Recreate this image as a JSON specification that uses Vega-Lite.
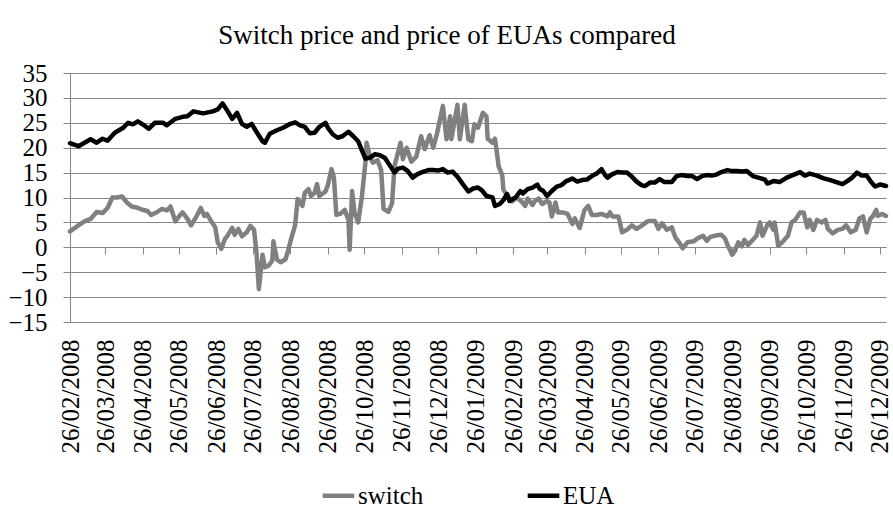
{
"$schema": "https://vega.github.io/schema/vega-lite/v6.json",
"width": 816, "height": 249,
"autosize": {"type": "none"},
"padding": {"left": 70, "top": 73, "right": 7, "bottom": 192},
"background": "white",
"title": {"text": "Switch price and price of EUAs compared", "font": "Times New Roman", "fontSize": 27, "fontWeight": "normal", "color": "black", "anchor": "middle", "offset": 11, "dx": -31},
"config": {"view": {"stroke": null}, "font": "Times New Roman"},
"data": {"values": [
{"date":"2008-02-26","series":"switch","price":3.2},{"date":"2008-03-04","series":"switch","price":4.4},{"date":"2008-03-09","series":"switch","price":5.2},{"date":"2008-03-14","series":"switch","price":5.7},{"date":"2008-03-19","series":"switch","price":7.1},{"date":"2008-03-24","series":"switch","price":6.9},{"date":"2008-03-28","series":"switch","price":7.9},{"date":"2008-04-01","series":"switch","price":10.0},{"date":"2008-04-05","series":"switch","price":10.0},{"date":"2008-04-09","series":"switch","price":10.2},{"date":"2008-04-13","series":"switch","price":9.0},{"date":"2008-04-17","series":"switch","price":8.2},{"date":"2008-04-21","series":"switch","price":8.0},{"date":"2008-04-25","series":"switch","price":7.6},{"date":"2008-04-30","series":"switch","price":7.3},{"date":"2008-05-03","series":"switch","price":6.5},{"date":"2008-05-08","series":"switch","price":7.1},{"date":"2008-05-12","series":"switch","price":7.7},{"date":"2008-05-16","series":"switch","price":7.4},{"date":"2008-05-19","series":"switch","price":8.2},{"date":"2008-05-23","series":"switch","price":5.2},{"date":"2008-05-27","series":"switch","price":6.5},{"date":"2008-05-29","series":"switch","price":7.0},{"date":"2008-06-02","series":"switch","price":5.7},{"date":"2008-06-05","series":"switch","price":4.4},{"date":"2008-06-09","series":"switch","price":6.0},{"date":"2008-06-13","series":"switch","price":7.9},{"date":"2008-06-16","series":"switch","price":6.3},{"date":"2008-06-18","series":"switch","price":6.7},{"date":"2008-06-21","series":"switch","price":5.5},{"date":"2008-06-25","series":"switch","price":4.0},{"date":"2008-06-27","series":"switch","price":1.0},{"date":"2008-06-30","series":"switch","price":-0.3},{"date":"2008-07-03","series":"switch","price":1.7},{"date":"2008-07-05","series":"switch","price":2.3},{"date":"2008-07-09","series":"switch","price":3.9},{"date":"2008-07-11","series":"switch","price":2.5},{"date":"2008-07-14","series":"switch","price":3.7},{"date":"2008-07-17","series":"switch","price":2.2},{"date":"2008-07-21","series":"switch","price":3.0},{"date":"2008-07-24","series":"switch","price":4.3},{"date":"2008-07-27","series":"switch","price":3.5},{"date":"2008-07-29","series":"switch","price":-1.0},{"date":"2008-07-31","series":"switch","price":-8.4},{"date":"2008-08-03","series":"switch","price":-1.5},{"date":"2008-08-05","series":"switch","price":-4.0},{"date":"2008-08-08","series":"switch","price":-3.7},{"date":"2008-08-11","series":"switch","price":-2.7},{"date":"2008-08-12","series":"switch","price":1.2},{"date":"2008-08-15","series":"switch","price":-2.5},{"date":"2008-08-18","series":"switch","price":-3.0},{"date":"2008-08-22","series":"switch","price":-2.4},{"date":"2008-08-24","series":"switch","price":-0.8},{"date":"2008-08-27","series":"switch","price":2.0},{"date":"2008-08-30","series":"switch","price":4.5},{"date":"2008-09-01","series":"switch","price":9.7},{"date":"2008-09-05","series":"switch","price":8.3},{"date":"2008-09-07","series":"switch","price":11.0},{"date":"2008-09-10","series":"switch","price":11.7},{"date":"2008-09-12","series":"switch","price":10.3},{"date":"2008-09-15","series":"switch","price":10.9},{"date":"2008-09-17","series":"switch","price":12.7},{"date":"2008-09-19","series":"switch","price":10.3},{"date":"2008-09-24","series":"switch","price":11.2},{"date":"2008-09-26","series":"switch","price":12.5},{"date":"2008-09-29","series":"switch","price":15.7},{"date":"2008-10-01","series":"switch","price":14.0},{"date":"2008-10-03","series":"switch","price":6.5},{"date":"2008-10-06","series":"switch","price":6.7},{"date":"2008-10-10","series":"switch","price":7.5},{"date":"2008-10-13","series":"switch","price":5.5},{"date":"2008-10-14","series":"switch","price":-0.5},{"date":"2008-10-16","series":"switch","price":11.3},{"date":"2008-10-18","series":"switch","price":7.0},{"date":"2008-10-21","series":"switch","price":5.0},{"date":"2008-10-24","series":"switch","price":10.0},{"date":"2008-10-27","series":"switch","price":17.0},{"date":"2008-10-28","series":"switch","price":21.0},{"date":"2008-10-31","series":"switch","price":18.0},{"date":"2008-11-02","series":"switch","price":17.0},{"date":"2008-11-06","series":"switch","price":17.5},{"date":"2008-11-09","series":"switch","price":15.5},{"date":"2008-11-11","series":"switch","price":7.7},{"date":"2008-11-15","series":"switch","price":7.1},{"date":"2008-11-18","series":"switch","price":8.8},{"date":"2008-11-20","series":"switch","price":16.3},{"date":"2008-11-25","series":"switch","price":21.0},{"date":"2008-11-27","series":"switch","price":17.7},{"date":"2008-11-30","series":"switch","price":20.0},{"date":"2008-12-04","series":"switch","price":17.2},{"date":"2008-12-08","series":"switch","price":18.2},{"date":"2008-12-12","series":"switch","price":22.3},{"date":"2008-12-15","series":"switch","price":19.7},{"date":"2008-12-19","series":"switch","price":22.5},{"date":"2008-12-22","series":"switch","price":20.0},{"date":"2008-12-25","series":"switch","price":22.7},{"date":"2008-12-30","series":"switch","price":28.4},{"date":"2009-01-02","series":"switch","price":21.7},{"date":"2009-01-05","series":"switch","price":26.3},{"date":"2009-01-06","series":"switch","price":21.7},{"date":"2009-01-11","series":"switch","price":28.6},{"date":"2009-01-13","series":"switch","price":21.7},{"date":"2009-01-17","series":"switch","price":28.6},{"date":"2009-01-20","series":"switch","price":21.7},{"date":"2009-01-23","series":"switch","price":21.3},{"date":"2009-01-25","series":"switch","price":24.7},{"date":"2009-01-28","series":"switch","price":24.0},{"date":"2009-02-01","series":"switch","price":27.0},{"date":"2009-02-04","series":"switch","price":26.3},{"date":"2009-02-05","series":"switch","price":21.8},{"date":"2009-02-09","series":"switch","price":21.0},{"date":"2009-02-11","series":"switch","price":21.8},{"date":"2009-02-13","series":"switch","price":18.3},{"date":"2009-02-14","series":"switch","price":16.3},{"date":"2009-02-17","series":"switch","price":14.5},{"date":"2009-02-18","series":"switch","price":11.5},{"date":"2009-02-21","series":"switch","price":10.5},{"date":"2009-02-25","series":"switch","price":9.2},{"date":"2009-03-01","series":"switch","price":10.0},{"date":"2009-03-05","series":"switch","price":9.2},{"date":"2009-03-08","series":"switch","price":8.3},{"date":"2009-03-10","series":"switch","price":9.8},{"date":"2009-03-14","series":"switch","price":8.5},{"date":"2009-03-16","series":"switch","price":9.3},{"date":"2009-03-19","series":"switch","price":9.8},{"date":"2009-03-22","series":"switch","price":8.7},{"date":"2009-03-26","series":"switch","price":9.3},{"date":"2009-03-28","series":"switch","price":9.0},{"date":"2009-03-30","series":"switch","price":6.2},{"date":"2009-04-02","series":"switch","price":9.0},{"date":"2009-04-04","series":"switch","price":7.0},{"date":"2009-04-08","series":"switch","price":7.0},{"date":"2009-04-12","series":"switch","price":6.7},{"date":"2009-04-16","series":"switch","price":4.7},{"date":"2009-04-18","series":"switch","price":5.8},{"date":"2009-04-22","series":"switch","price":3.9},{"date":"2009-04-26","series":"switch","price":7.5},{"date":"2009-04-29","series":"switch","price":8.3},{"date":"2009-05-02","series":"switch","price":6.5},{"date":"2009-05-06","series":"switch","price":6.5},{"date":"2009-05-10","series":"switch","price":6.7},{"date":"2009-05-15","series":"switch","price":6.2},{"date":"2009-05-17","series":"switch","price":7.0},{"date":"2009-05-19","series":"switch","price":6.2},{"date":"2009-05-24","series":"switch","price":6.2},{"date":"2009-05-27","series":"switch","price":3.0},{"date":"2009-05-31","series":"switch","price":3.5},{"date":"2009-06-04","series":"switch","price":4.4},{"date":"2009-06-08","series":"switch","price":3.7},{"date":"2009-06-12","series":"switch","price":4.3},{"date":"2009-06-17","series":"switch","price":5.2},{"date":"2009-06-19","series":"switch","price":5.3},{"date":"2009-06-23","series":"switch","price":5.3},{"date":"2009-06-26","series":"switch","price":3.7},{"date":"2009-06-29","series":"switch","price":4.8},{"date":"2009-07-03","series":"switch","price":3.5},{"date":"2009-07-07","series":"switch","price":4.0},{"date":"2009-07-10","series":"switch","price":2.0},{"date":"2009-07-14","series":"switch","price":0.7},{"date":"2009-07-16","series":"switch","price":-0.2},{"date":"2009-07-20","series":"switch","price":1.0},{"date":"2009-07-25","series":"switch","price":1.2},{"date":"2009-07-29","series":"switch","price":1.9},{"date":"2009-08-02","series":"switch","price":2.3},{"date":"2009-08-05","series":"switch","price":1.3},{"date":"2009-08-08","series":"switch","price":2.1},{"date":"2009-08-13","series":"switch","price":2.4},{"date":"2009-08-17","series":"switch","price":2.5},{"date":"2009-08-20","series":"switch","price":1.8},{"date":"2009-08-22","series":"switch","price":0.5},{"date":"2009-08-26","series":"switch","price":-1.5},{"date":"2009-08-28","series":"switch","price":-0.8},{"date":"2009-08-31","series":"switch","price":1.0},{"date":"2009-09-03","series":"switch","price":0.2},{"date":"2009-09-05","series":"switch","price":1.5},{"date":"2009-09-08","series":"switch","price":0.5},{"date":"2009-09-12","series":"switch","price":1.5},{"date":"2009-09-15","series":"switch","price":2.3},{"date":"2009-09-18","series":"switch","price":5.0},{"date":"2009-09-20","series":"switch","price":2.3},{"date":"2009-09-24","series":"switch","price":4.5},{"date":"2009-09-26","series":"switch","price":5.0},{"date":"2009-09-29","series":"switch","price":3.5},{"date":"2009-09-30","series":"switch","price":5.0},{"date":"2009-10-03","series":"switch","price":0.3},{"date":"2009-10-07","series":"switch","price":1.2},{"date":"2009-10-11","series":"switch","price":2.3},{"date":"2009-10-14","series":"switch","price":5.0},{"date":"2009-10-17","series":"switch","price":5.5},{"date":"2009-10-21","series":"switch","price":7.0},{"date":"2009-10-24","series":"switch","price":7.0},{"date":"2009-10-27","series":"switch","price":4.0},{"date":"2009-10-29","series":"switch","price":5.5},{"date":"2009-11-01","series":"switch","price":3.5},{"date":"2009-11-04","series":"switch","price":5.5},{"date":"2009-11-08","series":"switch","price":5.0},{"date":"2009-11-11","series":"switch","price":5.5},{"date":"2009-11-13","series":"switch","price":3.7},{"date":"2009-11-17","series":"switch","price":2.8},{"date":"2009-11-21","series":"switch","price":3.5},{"date":"2009-11-25","series":"switch","price":3.7},{"date":"2009-11-28","series":"switch","price":4.4},{"date":"2009-12-02","series":"switch","price":3.0},{"date":"2009-12-06","series":"switch","price":3.5},{"date":"2009-12-09","series":"switch","price":5.8},{"date":"2009-12-12","series":"switch","price":6.2},{"date":"2009-12-15","series":"switch","price":3.0},{"date":"2009-12-18","series":"switch","price":5.7},{"date":"2009-12-20","series":"switch","price":6.2},{"date":"2009-12-23","series":"switch","price":7.5},{"date":"2009-12-24","series":"switch","price":6.3},{"date":"2009-12-28","series":"switch","price":6.7},{"date":"2009-12-31","series":"switch","price":6.3},
{"date":"2008-02-26","series":"EUA","price":20.9},{"date":"2008-03-04","series":"EUA","price":20.3},{"date":"2008-03-09","series":"EUA","price":21.0},{"date":"2008-03-14","series":"EUA","price":21.7},{"date":"2008-03-19","series":"EUA","price":21.0},{"date":"2008-03-24","series":"EUA","price":21.8},{"date":"2008-03-28","series":"EUA","price":21.4},{"date":"2008-04-03","series":"EUA","price":23.0},{"date":"2008-04-10","series":"EUA","price":24.0},{"date":"2008-04-14","series":"EUA","price":25.0},{"date":"2008-04-18","series":"EUA","price":24.7},{"date":"2008-04-22","series":"EUA","price":25.3},{"date":"2008-04-26","series":"EUA","price":24.7},{"date":"2008-05-01","series":"EUA","price":23.8},{"date":"2008-05-06","series":"EUA","price":25.0},{"date":"2008-05-13","series":"EUA","price":25.0},{"date":"2008-05-16","series":"EUA","price":24.5},{"date":"2008-05-23","series":"EUA","price":25.8},{"date":"2008-05-29","series":"EUA","price":26.2},{"date":"2008-06-02","series":"EUA","price":26.3},{"date":"2008-06-07","series":"EUA","price":27.3},{"date":"2008-06-15","series":"EUA","price":26.9},{"date":"2008-06-19","series":"EUA","price":27.1},{"date":"2008-06-23","series":"EUA","price":27.3},{"date":"2008-06-27","series":"EUA","price":27.7},{"date":"2008-07-01","series":"EUA","price":28.9},{"date":"2008-07-05","series":"EUA","price":27.4},{"date":"2008-07-09","series":"EUA","price":25.8},{"date":"2008-07-13","series":"EUA","price":27.0},{"date":"2008-07-17","series":"EUA","price":24.8},{"date":"2008-07-21","series":"EUA","price":24.2},{"date":"2008-07-25","series":"EUA","price":24.8},{"date":"2008-07-29","series":"EUA","price":23.2},{"date":"2008-08-03","series":"EUA","price":21.3},{"date":"2008-08-05","series":"EUA","price":21.0},{"date":"2008-08-09","series":"EUA","price":22.8},{"date":"2008-08-15","series":"EUA","price":23.5},{"date":"2008-08-20","series":"EUA","price":24.0},{"date":"2008-08-26","series":"EUA","price":24.8},{"date":"2008-08-30","series":"EUA","price":25.1},{"date":"2008-09-03","series":"EUA","price":24.5},{"date":"2008-09-07","series":"EUA","price":24.2},{"date":"2008-09-11","series":"EUA","price":22.9},{"date":"2008-09-15","series":"EUA","price":23.0},{"date":"2008-09-19","series":"EUA","price":24.2},{"date":"2008-09-24","series":"EUA","price":25.0},{"date":"2008-09-26","series":"EUA","price":24.0},{"date":"2008-09-30","series":"EUA","price":22.7},{"date":"2008-10-04","series":"EUA","price":22.0},{"date":"2008-10-08","series":"EUA","price":22.3},{"date":"2008-10-13","series":"EUA","price":23.2},{"date":"2008-10-17","series":"EUA","price":22.3},{"date":"2008-10-21","series":"EUA","price":21.3},{"date":"2008-10-24","series":"EUA","price":19.5},{"date":"2008-10-27","series":"EUA","price":17.8},{"date":"2008-10-31","series":"EUA","price":18.0},{"date":"2008-11-04","series":"EUA","price":18.7},{"date":"2008-11-08","series":"EUA","price":18.5},{"date":"2008-11-12","series":"EUA","price":18.0},{"date":"2008-11-16","series":"EUA","price":16.5},{"date":"2008-11-20","series":"EUA","price":15.0},{"date":"2008-11-23","series":"EUA","price":15.8},{"date":"2008-11-27","series":"EUA","price":16.0},{"date":"2008-12-01","series":"EUA","price":15.3},{"date":"2008-12-05","series":"EUA","price":14.0},{"date":"2008-12-09","series":"EUA","price":14.7},{"date":"2008-12-14","series":"EUA","price":15.2},{"date":"2008-12-18","series":"EUA","price":15.5},{"date":"2008-12-22","series":"EUA","price":15.5},{"date":"2008-12-26","series":"EUA","price":15.4},{"date":"2008-12-30","series":"EUA","price":15.7},{"date":"2009-01-03","series":"EUA","price":15.0},{"date":"2009-01-07","series":"EUA","price":15.2},{"date":"2009-01-11","series":"EUA","price":14.2},{"date":"2009-01-16","series":"EUA","price":12.5},{"date":"2009-01-20","series":"EUA","price":11.2},{"date":"2009-01-24","series":"EUA","price":11.8},{"date":"2009-01-28","series":"EUA","price":12.0},{"date":"2009-01-31","series":"EUA","price":11.5},{"date":"2009-02-04","series":"EUA","price":10.3},{"date":"2009-02-09","series":"EUA","price":10.0},{"date":"2009-02-11","series":"EUA","price":8.3},{"date":"2009-02-15","series":"EUA","price":8.7},{"date":"2009-02-18","series":"EUA","price":9.5},{"date":"2009-02-21","series":"EUA","price":10.7},{"date":"2009-02-23","series":"EUA","price":9.3},{"date":"2009-02-28","series":"EUA","price":10.0},{"date":"2009-03-04","series":"EUA","price":11.3},{"date":"2009-03-06","series":"EUA","price":10.8},{"date":"2009-03-10","series":"EUA","price":11.7},{"date":"2009-03-14","series":"EUA","price":12.0},{"date":"2009-03-18","series":"EUA","price":12.6},{"date":"2009-03-20","series":"EUA","price":11.7},{"date":"2009-03-23","series":"EUA","price":11.3},{"date":"2009-03-26","series":"EUA","price":10.3},{"date":"2009-03-30","series":"EUA","price":11.3},{"date":"2009-04-03","series":"EUA","price":12.2},{"date":"2009-04-07","series":"EUA","price":12.5},{"date":"2009-04-11","series":"EUA","price":13.3},{"date":"2009-04-16","series":"EUA","price":13.8},{"date":"2009-04-20","series":"EUA","price":13.2},{"date":"2009-04-24","series":"EUA","price":13.5},{"date":"2009-04-28","series":"EUA","price":13.6},{"date":"2009-05-02","series":"EUA","price":14.3},{"date":"2009-05-06","series":"EUA","price":14.8},{"date":"2009-05-10","series":"EUA","price":15.7},{"date":"2009-05-13","series":"EUA","price":14.5},{"date":"2009-05-15","series":"EUA","price":14.0},{"date":"2009-05-19","series":"EUA","price":14.7},{"date":"2009-05-23","series":"EUA","price":15.1},{"date":"2009-05-27","series":"EUA","price":15.0},{"date":"2009-05-31","series":"EUA","price":15.0},{"date":"2009-06-04","series":"EUA","price":14.2},{"date":"2009-06-08","series":"EUA","price":13.2},{"date":"2009-06-12","series":"EUA","price":12.5},{"date":"2009-06-15","series":"EUA","price":12.3},{"date":"2009-06-19","series":"EUA","price":13.0},{"date":"2009-06-23","series":"EUA","price":13.0},{"date":"2009-06-27","series":"EUA","price":13.7},{"date":"2009-07-01","series":"EUA","price":13.1},{"date":"2009-07-07","series":"EUA","price":13.1},{"date":"2009-07-11","series":"EUA","price":14.3},{"date":"2009-07-15","series":"EUA","price":14.5},{"date":"2009-07-20","series":"EUA","price":14.3},{"date":"2009-07-24","series":"EUA","price":14.3},{"date":"2009-07-28","series":"EUA","price":13.7},{"date":"2009-08-01","series":"EUA","price":14.3},{"date":"2009-08-05","series":"EUA","price":14.5},{"date":"2009-08-09","series":"EUA","price":14.4},{"date":"2009-08-13","series":"EUA","price":14.6},{"date":"2009-08-17","series":"EUA","price":15.1},{"date":"2009-08-22","series":"EUA","price":15.5},{"date":"2009-08-26","series":"EUA","price":15.3},{"date":"2009-08-30","series":"EUA","price":15.3},{"date":"2009-09-03","series":"EUA","price":15.2},{"date":"2009-09-07","series":"EUA","price":15.3},{"date":"2009-09-12","series":"EUA","price":14.3},{"date":"2009-09-18","series":"EUA","price":13.9},{"date":"2009-09-22","series":"EUA","price":13.6},{"date":"2009-09-24","series":"EUA","price":12.8},{"date":"2009-09-29","series":"EUA","price":13.3},{"date":"2009-10-04","series":"EUA","price":13.1},{"date":"2009-10-10","series":"EUA","price":14.0},{"date":"2009-10-15","series":"EUA","price":14.5},{"date":"2009-10-21","series":"EUA","price":15.1},{"date":"2009-10-25","series":"EUA","price":14.4},{"date":"2009-10-29","series":"EUA","price":14.8},{"date":"2009-11-04","series":"EUA","price":14.4},{"date":"2009-11-09","series":"EUA","price":13.9},{"date":"2009-11-15","series":"EUA","price":13.5},{"date":"2009-11-20","series":"EUA","price":13.1},{"date":"2009-11-25","series":"EUA","price":12.7},{"date":"2009-11-29","series":"EUA","price":13.3},{"date":"2009-12-03","series":"EUA","price":14.0},{"date":"2009-12-07","series":"EUA","price":15.0},{"date":"2009-12-11","series":"EUA","price":14.4},{"date":"2009-12-15","series":"EUA","price":14.4},{"date":"2009-12-19","series":"EUA","price":13.0},{"date":"2009-12-22","series":"EUA","price":12.2},{"date":"2009-12-26","series":"EUA","price":12.6},{"date":"2009-12-31","series":"EUA","price":12.3}
]},
"encoding": {
  "y": {"field": "price", "type": "quantitative",
    "scale": {"domain": [-15, 35], "nice": false, "zero": false},
    "axis": {"values": [-15,-10,-5,0,5,10,15,20,25,30,35], "title": null, "grid": true, "gridColor": "#868686", "gridWidth": 1, "domainColor": "#868686", "tickColor": "#868686", "tickSize": 7, "labelFontSize": 25, "labelFont": "Times New Roman", "labelColor": "black", "labelPadding": 16, "labelOverlap": false, "labelBound": false, "labelFlush": false}},
  "color": {"field": "series", "type": "nominal",
    "scale": {"domain": ["switch", "EUA"], "range": ["#808080", "#000000"]},
    "legend": {"title": null, "orient": "none", "legendX": 250, "legendY": 404, "direction": "horizontal", "symbolType": "stroke", "symbolStrokeWidth": 4.5, "symbolSize": 1000, "labelFontSize": 25, "labelFont": "Times New Roman", "labelColor": "black", "labelOffset": 1, "columnPadding": 94}}
},
"layer": [
  {
    "transform": [{"filter": "datum.series == 'switch'"}],
    "mark": {"type": "line", "strokeWidth": 4.5, "strokeJoin": "round", "strokeCap": "round"},
    "encoding": {
      "x": {"field": "date", "type": "temporal",
        "scale": {"type": "utc", "domain": [{"year": 2008, "month": 2, "date": 26, "utc": true}, {"year": 2009, "month": 12, "date": 31, "utc": true}]},
        "axis": {"orient": "bottom", "title": null, "format": "%d/%m/%Y", "labelAngle": -90, "labelFontSize": 25, "labelFont": "Times New Roman", "labelColor": "black", "labelPadding": 17, "ticks": false, "domain": false, "grid": false, "labelOverlap": false, "labelFlush": false, "labelBound": false,
          "values": [{"year":2008,"month":2,"date":26,"utc":true},{"year":2008,"month":3,"date":26,"utc":true},{"year":2008,"month":4,"date":26,"utc":true},{"year":2008,"month":5,"date":26,"utc":true},{"year":2008,"month":6,"date":26,"utc":true},{"year":2008,"month":7,"date":26,"utc":true},{"year":2008,"month":8,"date":26,"utc":true},{"year":2008,"month":9,"date":26,"utc":true},{"year":2008,"month":10,"date":26,"utc":true},{"year":2008,"month":11,"date":26,"utc":true},{"year":2008,"month":12,"date":26,"utc":true},{"year":2009,"month":1,"date":26,"utc":true},{"year":2009,"month":2,"date":26,"utc":true},{"year":2009,"month":3,"date":26,"utc":true},{"year":2009,"month":4,"date":26,"utc":true},{"year":2009,"month":5,"date":26,"utc":true},{"year":2009,"month":6,"date":26,"utc":true},{"year":2009,"month":7,"date":26,"utc":true},{"year":2009,"month":8,"date":26,"utc":true},{"year":2009,"month":9,"date":26,"utc":true},{"year":2009,"month":10,"date":26,"utc":true},{"year":2009,"month":11,"date":26,"utc":true},{"year":2009,"month":12,"date":26,"utc":true}]}}
    }
  },
  {
    "transform": [{"filter": "datum.series == 'EUA'"}],
    "mark": {"type": "line", "strokeWidth": 4.5, "strokeJoin": "round", "strokeCap": "round"},
    "encoding": {
      "x": {"field": "date", "type": "temporal",
        "axis": {"orient": "bottom", "offset": -75, "title": null, "labels": false, "ticks": true, "tickSize": 7, "tickColor": "#868686", "domain": true, "domainColor": "#868686", "grid": false,
          "values": [{"year":2008,"month":2,"date":26,"utc":true},{"year":2008,"month":3,"date":26,"utc":true},{"year":2008,"month":4,"date":26,"utc":true},{"year":2008,"month":5,"date":26,"utc":true},{"year":2008,"month":6,"date":26,"utc":true},{"year":2008,"month":7,"date":26,"utc":true},{"year":2008,"month":8,"date":26,"utc":true},{"year":2008,"month":9,"date":26,"utc":true},{"year":2008,"month":10,"date":26,"utc":true},{"year":2008,"month":11,"date":26,"utc":true},{"year":2008,"month":12,"date":26,"utc":true},{"year":2009,"month":1,"date":26,"utc":true},{"year":2009,"month":2,"date":26,"utc":true},{"year":2009,"month":3,"date":26,"utc":true},{"year":2009,"month":4,"date":26,"utc":true},{"year":2009,"month":5,"date":26,"utc":true},{"year":2009,"month":6,"date":26,"utc":true},{"year":2009,"month":7,"date":26,"utc":true},{"year":2009,"month":8,"date":26,"utc":true},{"year":2009,"month":9,"date":26,"utc":true},{"year":2009,"month":10,"date":26,"utc":true},{"year":2009,"month":11,"date":26,"utc":true},{"year":2009,"month":12,"date":26,"utc":true}]}}
    }
  }
],
"resolve": {"axis": {"x": "independent"}}
}
